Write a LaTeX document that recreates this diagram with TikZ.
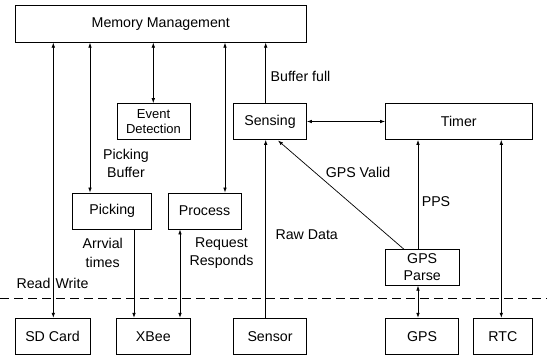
\documentclass[tikz,border=0pt]{standalone}
\usepackage{fontspec}
\setmainfont{Liberation Sans}
\usetikzlibrary{arrows.meta}
\begin{document}
\begin{tikzpicture}[x=1pt,y=-1pt,
  box/.style={draw,line width=0.8pt,inner sep=0pt,minimum height=36pt,font=\fontsize{14.2}{17.3}\selectfont,align=center},
  smallbox/.style={box,font=\fontsize{13}{15}\selectfont},
  lbl/.style={font=\fontsize{14.2}{18.7}\selectfont,align=center,inner sep=0pt},
  conn/.style={line width=0.7pt},
  tip/.style={-{Latex[length=5pt,width=3.6pt]}},
  btip/.style={{Latex[length=5pt,width=3.6pt]}-{Latex[length=5pt,width=3.6pt]}}]
\useasboundingbox (0,0) rectangle (547,356);
% boxes
\node[box,minimum width=291.5pt,minimum height=37pt] (MM) at (160.75,23.75) {Memory Management};
\node[smallbox,minimum width=73pt] (ED) at (153.5,121.5) {Event\\Detection};
\node[box,minimum width=73pt] (Sensing) at (270,121.5) {Sensing};
\node[box,minimum width=146.5pt] (Timer) at (458.75,121.5) {Timer};
\node[box,minimum width=79pt] (Picking) at (112.2,211) {Picking};
\node[box,minimum width=73pt] (Process) at (204.5,211) {Process};
\node[box,minimum width=73.5pt] (GPSP) at (422.2,267.3) {GPS\\Parse};
\node[box,minimum width=75pt] (SD) at (52.5,336.2) {SD Card};
\node[box,minimum width=73.3pt] (XBee) at (153.3,336.2) {XBee};
\node[box,minimum width=73pt] (Sensor) at (270,336.2) {Sensor};
\node[box,minimum width=73.4pt] (GPS) at (422,336.2) {GPS};
\node[box,minimum width=58.3pt] (RTC) at (502.8,336.2) {RTC};
% x positions of connectors
\coordinate (xsd) at (53.3,0);
\coordinate (xpk) at (90,0);
\coordinate (xpx) at (134,0);
\coordinate (xed) at (153.3,0);
\coordinate (xxp) at (180,0);
\coordinate (xpr) at (225,0);
\coordinate (xse) at (265.7,0);
\coordinate (xgp) at (418,0);
\coordinate (xrt) at (501.3,0);
\coordinate (gpsvs) at (404,249.3);
\coordinate (gpsve) at (278,140.5);
\coordinate (dl) at (0,298);
\coordinate (dr) at (547,298);
% connectors
\draw[conn,btip] (MM.south -| xsd) -- (SD.north -| xsd);
\draw[conn,btip] (MM.south -| xpk) -- (Picking.north -| xpk);
\draw[conn,btip] (MM.south -| xed) -- (ED.north -| xed);
\draw[conn,btip] (MM.south -| xpr) -- (Process.north -| xpr);
\draw[conn,tip] (Sensing.north -| xse) -- (MM.south -| xse);
\draw[conn,tip] (Sensor.north -| xse) -- (Sensing.south -| xse);
\draw[conn,btip] (Sensing.east) -- (Timer.west);
\draw[conn,tip] (gpsvs) -- (gpsve);
\draw[conn,tip] (GPSP.north -| xgp) -- (Timer.south -| xgp);
\draw[conn,btip] (RTC.north -| xrt) -- (Timer.south -| xrt);
\draw[conn,btip] (GPSP.south -| xgp) -- (GPS.north -| xgp);
\draw[conn,tip] (Picking.south -| xpx) -- (XBee.north -| xpx);
\draw[conn,btip] (Process.south -| xxp) -- (XBee.north -| xxp);
\draw[line width=0.8pt,dash pattern=on 9pt off 5pt] (dl) -- (dr);
% labels
\node[lbl] (lbf) at (300.5,76) {Buffer full};
\node[lbl] (lpb) at (126,163.5) {Picking\\Buffer};
\node[lbl] (lgv) at (358,172.7) {GPS Valid};
\node[lbl] (lpps) at (436,202) {PPS};
\node[lbl] (lrd) at (306.7,235) {Raw Data};
\node[lbl] (lat) at (102.7,253) {Arrvial\\times};
\node[lbl] (lrr) at (221.5,253) {Request\\Responds};
\node[lbl] (lread) at (33.5,283) {Read};
\node[lbl] (lwrite) at (72,283) {Write};
\end{tikzpicture}
\end{document}
